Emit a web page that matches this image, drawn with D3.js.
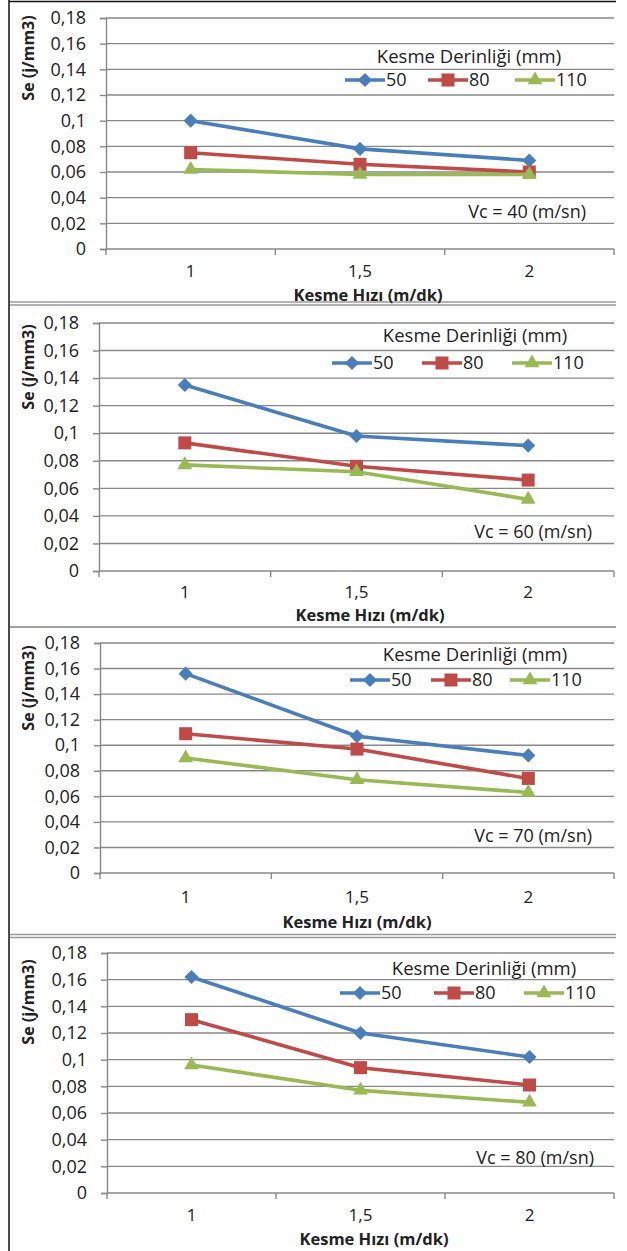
<!DOCTYPE html>
<html lang="tr">
<head>
    <meta charset="UTF-8">
    <title>Se - Kesme Hızı</title>
    <script src="https://d3js.org/d3.v7.min.js"></script>
    <style>
        body {
            margin: 0;
            padding: 0;
            background-color: #fff;
        }
        svg text {
            font-family: "Open Sans", "Noto Sans", sans-serif;
            fill: #222;
        }
        .bold {
            font-weight: bold;
        }
    </style>
</head>
<body>
    <div id="chart"></div>

    <script>
        // X categories (Kesme Hızı) and series (Kesme Derinliği)
        const speeds = ["1", "1,5", "2"];
        const depths = ["50", "80", "110"];
        const yTicks = [0, 0.02, 0.04, 0.06, 0.08, 0.1, 0.12, 0.14, 0.16, 0.18];
        const yTickLabels = ["0", "0,02", "0,04", "0,06", "0,08", "0,1", "0,12", "0,14", "0,16", "0,18"];
        const vcLabels = ["Vc = 40 (m/sn)", "Vc = 60 (m/sn)", "Vc = 70 (m/sn)", "Vc = 80 (m/sn)"];

        // Se (j/mm3) values, one row per depth (50, 80, 110)
        const seVc40 = [[0.100, 0.078, 0.069], [0.075, 0.066, 0.060], [0.062, 0.058, 0.058]];
        const seVc60 = [[0.135, 0.098, 0.091], [0.093, 0.076, 0.066], [0.077, 0.072, 0.052]];
        const seVc70 = [[0.156, 0.107, 0.092], [0.109, 0.097, 0.074], [0.090, 0.073, 0.063]];
        const seVc80 = [[0.162, 0.120, 0.102], [0.130, 0.094, 0.081], [0.096, 0.077, 0.068]];
        const panelData = [seVc40, seVc60, seVc70, seVc80];

        const colors = ["#4a7ebb", "#be4b48", "#98b954"];
        const shapes = ["diamond", "square", "triangle"];

        const W = 627, H = 1251;
        const plotRight = 614;

        // Panel placement
        const layout = [
            { top: 18, bottom: 249, left: 106, legTitleX: 469, legTitleY: 57, rowY: 80, legX: 345, legOff: [0, 83, 170],
              vcX: 586, vcY: 212, yTitleY: 58, xLabY: 271, xTitleX: 368, xTitleY: 295 },
            { top: 323, bottom: 571, left: 99, legTitleX: 475, legTitleY: 336, rowY: 363, legX: 332, legOff: [0, 90, 180],
              vcX: 592, vcY: 532, yTitleY: 367, xLabY: 592, xTitleX: 370, xTitleY: 615 },
            { top: 643, bottom: 873, left: 100, legTitleX: 475, legTitleY: 655, rowY: 680, legX: 350, legOff: [0, 81, 160],
              vcX: 592, vcY: 836, yTitleY: 688, xLabY: 897, xTitleX: 357, xTitleY: 922 },
            { top: 953, bottom: 1193, left: 107, legTitleX: 484, legTitleY: 969, rowY: 993, legX: 340, legOff: [0, 94, 184],
              vcX: 594, vcY: 1158, yTitleY: 1002, xLabY: 1215, xTitleX: 374, xTitleY: 1239 }
        ];

        const svg = d3.select("#chart").append("svg")
            .attr("width", W)
            .attr("height", H);

        // page frame: left and top border, grey separators between the charts
        svg.append("line").attr("x1", 9).attr("x2", 9).attr("y1", 0).attr("y2", H)
            .attr("stroke", "#111").attr("stroke-width", 1.5);
        svg.append("line").attr("x1", 9).attr("x2", 616).attr("y1", 1.5).attr("y2", 1.5)
            .attr("stroke", "#111").attr("stroke-width", 1.5);
        [[302, 305], [627, 627], [934.5, 937.5]].forEach(pair => {
            pair.forEach(yy => {
                svg.append("line").attr("x1", 10).attr("x2", 616).attr("y1", yy).attr("y2", yy)
                    .attr("stroke", "#9a9a9a").attr("stroke-width", 1.5);
            });
        });

        const markerPath = (shape) => {
            if (shape === "diamond") return d3.symbol(d3.symbolSquare, 100)();
            if (shape === "square") return d3.symbol(d3.symbolSquare, 169)();
            return d3.symbol(d3.symbolTriangle, 95)();
        };

        const drawMarker = (g, shape, cx, cy, color) => {
            g.append("path")
                .attr("d", markerPath(shape))
                .attr("transform", `translate(${cx},${cy})` + (shape === "diamond" ? " rotate(45)" : ""))
                .attr("fill", color);
        };

        layout.forEach((L, p) => {
            const g = svg.append("g");

            const x = d3.scaleBand().domain(speeds).range([L.left, plotRight]).padding(0);
            const y = d3.scaleLinear().domain([0, 0.18]).range([L.bottom, L.top]);

            // horizontal gridlines
            g.selectAll(".grid").data(yTicks.slice(1)).join("line")
                .attr("x1", L.left).attr("x2", plotRight)
                .attr("y1", d => y(d)).attr("y2", d => y(d))
                .attr("stroke", "#888").attr("stroke-width", 1.4);

            // y axis
            const yAxis = d3.axisLeft(y)
                .tickValues(yTicks)
                .tickFormat((d, i) => yTickLabels[i])
                .tickSize(6)
                .tickPadding(14);
            const ya = g.append("g").attr("transform", `translate(${L.left},0)`).call(yAxis);
            ya.select(".domain").attr("stroke", "#888").attr("stroke-width", 1.4);
            ya.selectAll(".tick line").attr("stroke", "#888").attr("stroke-width", 1.4);
            ya.selectAll(".tick text").attr("font-size", 18).attr("fill", "#222")
                .attr("font-family", "Open Sans");

            // x axis line with tick marks at the band edges
            g.append("line").attr("x1", L.left).attr("x2", plotRight)
                .attr("y1", L.bottom).attr("y2", L.bottom)
                .attr("stroke", "#888").attr("stroke-width", 1.4);
            const edges = speeds.map(s => x(s)).concat([plotRight]);
            g.selectAll(".xtick").data(edges).join("line")
                .attr("x1", d => d).attr("x2", d => d)
                .attr("y1", L.bottom).attr("y2", L.bottom + 6)
                .attr("stroke", "#888").attr("stroke-width", 1.4);
            g.selectAll(".xlab").data(speeds).join("text")
                .attr("x", d => x(d) + x.bandwidth() / 2)
                .attr("y", L.xLabY)
                .attr("dy", "0.35em")
                .attr("text-anchor", "middle")
                .attr("font-size", 17)
                .text(d => d);

            // axis titles
            g.append("text").attr("class", "bold")
                .attr("x", L.xTitleX).attr("y", L.xTitleY).attr("dy", "0.35em")
                .attr("text-anchor", "middle").attr("font-size", 16.5)
                .text("Kesme Hızı (m/dk)");
            g.append("text").attr("class", "bold")
                .attr("transform", `translate(28,${L.yTitleY}) rotate(-90)`)
                .attr("dy", "0.35em")
                .attr("text-anchor", "middle").attr("font-size", 16)
                .text("Se (j/mm3)");

            // series lines and markers
            const line = d3.line()
                .x((d, i) => x(speeds[i]) + x.bandwidth() / 2)
                .y(d => y(d));
            panelData[p].forEach((vals, k) => {
                g.append("path").datum(vals)
                    .attr("d", line)
                    .attr("fill", "none")
                    .attr("stroke", colors[k])
                    .attr("stroke-width", 3.6)
                    .attr("stroke-linejoin", "round");
                vals.forEach((v, i) => {
                    drawMarker(g, shapes[k], x(speeds[i]) + x.bandwidth() / 2, y(v), colors[k]);
                });
            });

            // legend
            g.append("text")
                .attr("x", L.legTitleX).attr("y", L.legTitleY).attr("dy", "0.35em")
                .attr("text-anchor", "middle").attr("font-size", 18.5)
                .text("Kesme Derinliği (mm)");
            depths.forEach((dname, k) => {
                const lx = L.legX + L.legOff[k];
                g.append("line")
                    .attr("x1", lx).attr("x2", lx + 40)
                    .attr("y1", L.rowY).attr("y2", L.rowY)
                    .attr("stroke", colors[k]).attr("stroke-width", 3.6);
                drawMarker(g, shapes[k], lx + 20, L.rowY, colors[k]);
                g.append("text")
                    .attr("x", lx + 41).attr("y", L.rowY).attr("dy", "0.35em")
                    .attr("font-size", 18)
                    .text(dname);
            });

            // Vc annotation
            g.append("text")
                .attr("x", L.vcX).attr("y", L.vcY).attr("dy", "0.35em")
                .attr("text-anchor", "end").attr("font-size", 18)
                .text(vcLabels[p]);
        });
    </script>
</body>
</html>
